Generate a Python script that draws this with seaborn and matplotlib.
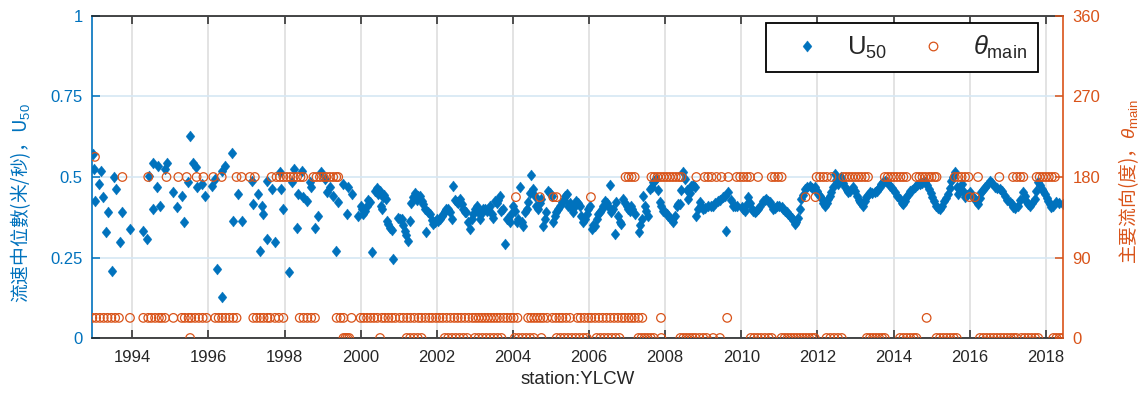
import matplotlib
matplotlib.use("Agg")
import numpy as np
import pandas as pd
import matplotlib.pyplot as plt
import seaborn as sns
from matplotlib.path import Path
from matplotlib.lines import Line2D

# ---------------------------------------------------------------------------
# Median flow speed U50 (m/s), station YLCW, by decimal year
# ---------------------------------------------------------------------------
u50_year = [
    1992.98, 1992.99, 1993.02, 1993.13, 1993.19, 1993.24, 1993.30, 1993.37,
    1993.46, 1993.52, 1993.57, 1993.68, 1993.74, 1993.94, 1994.29, 1994.40,
    1994.45, 1994.54, 1994.55, 1994.64, 1994.68, 1994.73, 1994.86, 1994.90,
    1995.06, 1995.18, 1995.30, 1995.37, 1995.47, 1995.52, 1995.60, 1995.67,
    1995.71, 1995.82, 1995.91, 1996.09, 1996.17, 1996.23, 1996.35, 1996.37,
    1996.43, 1996.61, 1996.65, 1996.79, 1996.87, 1997.14, 1997.18, 1997.31,
    1997.35, 1997.40, 1997.44, 1997.53, 1997.54, 1997.66, 1997.75, 1997.88,
    1997.92, 1997.97, 1998.12, 1998.19, 1998.25, 1998.34, 1998.36, 1998.45,
    1998.49, 1998.58, 1998.67, 1998.69, 1998.80, 1998.89, 1998.97, 1999.06,
    1999.11, 1999.19, 1999.28, 1999.34, 1999.41, 1999.54, 1999.63, 1999.68,
    1999.76, 1999.92, 2000.00,
    2000.07, 2000.16, 2000.24, 2000.29, 2000.37, 2000.46, 2000.55, 2000.59,
    2000.66, 2000.68, 2000.77, 2000.86, 2000.99, 2001.08, 2001.16, 2001.25,
    2001.29, 2001.38, 2001.51, 2001.60, 2001.69, 2001.73, 2001.82, 2001.91,
    2002.04, 2002.13, 2002.21, 2002.30, 2002.39, 2002.43, 2002.52, 2002.61,
    2002.69, 2002.78, 2002.87, 2002.96, 2003.05, 2003.13, 2003.22, 2003.31,
    2003.40, 2003.48, 2003.53, 2003.66, 2003.70, 2003.79, 2003.88, 2004.01,
    2004.10, 2004.18, 2004.27, 2004.32, 2004.40, 2004.47, 2004.53, 2004.62,
    2004.75, 2004.80, 2004.88, 2004.93, 2005.02, 2005.06, 2005.19, 2005.28,
    2005.41, 2005.45, 2005.59, 2005.67, 2005.76, 2005.85, 2005.94, 2006.02,
    2006.07, 2006.15, 2006.24, 2006.33, 2006.42, 2006.50, 2006.55, 2006.59,
    2006.68, 2006.72, 2006.85, 2006.90, 2006.99, 2007.07,
    2000.03, 2000.12, 2000.20, 2000.42, 2000.50, 2000.62, 2000.53, 2000.72,
    2000.82, 2001.03, 2001.12, 2001.20, 2001.33, 2001.43, 2001.47, 2001.55,
    2001.64, 2001.78, 2001.87, 2001.95, 2002.00, 2002.08, 2002.17, 2002.25,
    2002.34, 2002.48, 2002.56, 2002.65, 2002.73, 2002.83, 2002.92, 2003.00,
    2003.09, 2003.17, 2003.26, 2003.35, 2003.44, 2003.57, 2003.62, 2003.74,
    2003.84, 2003.92, 2003.96, 2004.05, 2004.14, 2004.23, 2004.36, 2004.44,
    2004.57, 2004.66, 2004.70, 2004.84, 2004.97, 2005.10, 2005.14, 2005.24,
    2005.33, 2005.37, 2005.50, 2005.54, 2005.63, 2005.72, 2005.80, 2005.90,
    2005.98, 2006.10, 2006.20, 2006.28, 2006.37, 2006.46, 2006.63, 2006.77,
    2006.81, 2006.95, 2007.03, 2007.10,
    2007.12, 2007.20, 2007.32, 2007.38, 2007.42, 2007.47, 2007.55, 2007.60,
    2007.69, 2007.77, 2007.86, 2007.95, 2008.04, 2008.12, 2008.21, 2008.30,
    2008.39, 2008.46, 2008.52, 2008.61, 2008.69, 2008.78, 2008.82, 2008.91,
    2009.00, 2009.13, 2009.26, 2009.39, 2009.52, 2009.61, 2009.66, 2009.79,
    2009.88, 2010.01, 2010.09, 2010.18, 2010.27, 2010.36, 2010.44, 2010.58,
    2010.66, 2010.75, 2010.84, 2010.93, 2011.06, 2011.14, 2011.23, 2011.32,
    2011.41, 2011.49, 2011.58, 2011.67, 2011.80, 2011.93, 2012.02, 2012.11,
    2012.20, 2012.28, 2012.37, 2012.46, 2012.55, 2012.63, 2012.72, 2012.81,
    2012.94, 2013.03, 2013.12, 2013.20, 2013.29, 2013.38, 2013.51, 2013.60,
    2013.68, 2013.77,
    2007.35, 2007.50, 2007.65, 2007.73, 2007.82, 2007.90, 2008.00, 2008.08,
    2008.17, 2008.25, 2008.35, 2008.42, 2008.57, 2008.65, 2008.74, 2008.87,
    2008.95, 2009.06, 2009.20, 2009.32, 2009.45, 2009.57, 2009.72, 2009.84,
    2010.05, 2010.14, 2010.22, 2010.31, 2010.40, 2010.50, 2010.62, 2010.70,
    2010.80, 2010.88, 2010.98, 2011.10, 2011.19, 2011.28, 2011.36, 2011.45,
    2011.53, 2011.62, 2011.72, 2011.85, 2011.98, 2012.06, 2012.15, 2012.24,
    2012.33, 2012.42, 2012.50, 2012.59, 2012.68, 2012.77, 2012.86, 2012.99,
    2013.08, 2013.16, 2013.25, 2013.33, 2013.44, 2013.56, 2013.64, 2013.73,
    2013.83,
    2013.90, 2014.03, 2014.17, 2014.25, 2014.34, 2014.43, 2014.56, 2014.69,
    2014.82, 2014.94, 2015.02, 2015.11, 2015.22, 2015.32, 2015.44, 2015.52,
    2015.61, 2015.70, 2015.79, 2015.87, 2016.00, 2016.14, 2016.22, 2016.31,
    2016.40, 2016.53, 2016.66, 2016.79, 2016.92, 2017.06, 2017.14, 2017.27,
    2017.41, 2017.49, 2017.58, 2017.71, 2017.80, 2017.89, 2017.98, 2018.06,
    2018.15, 2018.28, 2018.44,
    2013.96, 2014.10, 2014.21, 2014.30, 2014.38, 2014.49, 2014.62, 2014.75,
    2014.88, 2014.98, 2015.06, 2015.16, 2015.27, 2015.38, 2015.48, 2015.57,
    2015.66, 2015.75, 2015.83, 2015.93, 2016.06, 2016.18, 2016.27, 2016.36,
    2016.46, 2016.59, 2016.72, 2016.85, 2016.98, 2017.10, 2017.20, 2017.33,
    2017.45, 2017.54, 2017.65, 2017.75, 2017.84, 2017.94, 2018.02, 2018.10,
    2018.20, 2018.35,
]
u50 = [
    0.570, 0.525, 0.426, 0.478, 0.520, 0.437, 0.328, 0.390,
    0.209, 0.499, 0.463, 0.297, 0.392, 0.340, 0.333, 0.307,
    0.504, 0.545, 0.400, 0.468, 0.535, 0.410, 0.525, 0.545,
    0.452, 0.406, 0.442, 0.359, 0.483, 0.626, 0.545, 0.530,
    0.468, 0.478, 0.442, 0.473, 0.494, 0.214, 0.126, 0.520,
    0.535, 0.573, 0.364, 0.447, 0.364, 0.488, 0.416, 0.447,
    0.271, 0.410, 0.385, 0.307, 0.488, 0.463, 0.297, 0.514,
    0.463, 0.400, 0.204, 0.483, 0.525, 0.343, 0.447, 0.520,
    0.437, 0.426, 0.483, 0.468, 0.343, 0.380, 0.514, 0.494,
    0.452, 0.468, 0.442, 0.271, 0.421, 0.478, 0.385, 0.468,
    0.447, 0.380, 0.410,
    0.385, 0.410, 0.421, 0.266, 0.457, 0.447, 0.400, 0.437,
    0.431, 0.364, 0.343, 0.245, 0.374, 0.369, 0.333, 0.302,
    0.364, 0.437, 0.442, 0.426, 0.400, 0.328, 0.385, 0.354,
    0.364, 0.380, 0.395, 0.400, 0.369, 0.471, 0.421, 0.431,
    0.400, 0.390, 0.338, 0.385, 0.410, 0.369, 0.400, 0.395,
    0.410, 0.374, 0.426, 0.442, 0.395, 0.292, 0.369, 0.410,
    0.359, 0.468, 0.349, 0.390, 0.421, 0.506, 0.463, 0.410,
    0.431, 0.349, 0.390, 0.457, 0.442, 0.359, 0.400, 0.421,
    0.447, 0.410, 0.390, 0.426, 0.410, 0.359, 0.385, 0.410,
    0.338, 0.349, 0.385, 0.400, 0.426, 0.410, 0.475, 0.390,
    0.323, 0.421, 0.354, 0.431, 0.410, 0.395,
    0.400, 0.395, 0.430, 0.465, 0.455, 0.445, 0.410, 0.355,
    0.335, 0.370, 0.350, 0.320, 0.420, 0.450, 0.430, 0.440,
    0.415, 0.390, 0.365, 0.360, 0.370, 0.370, 0.385, 0.400,
    0.390, 0.430, 0.420, 0.415, 0.390, 0.360, 0.370, 0.400,
    0.390, 0.385, 0.400, 0.400, 0.385, 0.420, 0.430, 0.400,
    0.370, 0.360, 0.385, 0.395, 0.370, 0.360, 0.400, 0.450,
    0.440, 0.400, 0.420, 0.370, 0.450, 0.380, 0.390, 0.410,
    0.430, 0.440, 0.420, 0.400, 0.410, 0.420, 0.380, 0.370,
    0.400, 0.350, 0.370, 0.390, 0.410, 0.420, 0.400, 0.380,
    0.360, 0.420, 0.400, 0.410,
    0.400, 0.385, 0.328, 0.369, 0.442, 0.410, 0.380, 0.463,
    0.483, 0.494, 0.421, 0.395, 0.385, 0.374, 0.359, 0.410,
    0.416, 0.516, 0.494, 0.431, 0.473, 0.468, 0.380, 0.421,
    0.400, 0.410, 0.410, 0.426, 0.437, 0.333, 0.452, 0.410,
    0.410, 0.406, 0.395, 0.437, 0.400, 0.390, 0.400, 0.426,
    0.431, 0.421, 0.400, 0.410, 0.406, 0.395, 0.385, 0.374,
    0.354, 0.374, 0.431, 0.463, 0.473, 0.468, 0.447, 0.431,
    0.410, 0.431, 0.452, 0.509, 0.478, 0.499, 0.468, 0.452,
    0.468, 0.442, 0.421, 0.410, 0.437, 0.452, 0.452, 0.463,
    0.478, 0.488,
    0.350, 0.395, 0.470, 0.490, 0.460, 0.410, 0.390, 0.380,
    0.365, 0.380, 0.415, 0.460, 0.460, 0.450, 0.475, 0.400,
    0.410, 0.405, 0.410, 0.420, 0.430, 0.440, 0.430, 0.410,
    0.400, 0.415, 0.420, 0.395, 0.395, 0.410, 0.430, 0.425,
    0.410, 0.405, 0.410, 0.400, 0.390, 0.380, 0.365, 0.360,
    0.400, 0.445, 0.470, 0.465, 0.455, 0.440, 0.420, 0.420,
    0.440, 0.470, 0.490, 0.490, 0.480, 0.460, 0.455, 0.455,
    0.430, 0.415, 0.425, 0.445, 0.450, 0.455, 0.470, 0.485,
    0.485,
    0.473, 0.452, 0.431, 0.416, 0.437, 0.457, 0.468, 0.478,
    0.483, 0.463, 0.437, 0.410, 0.400, 0.426, 0.447, 0.488,
    0.514, 0.447, 0.478, 0.437, 0.452, 0.431, 0.416, 0.452,
    0.468, 0.488, 0.468, 0.463, 0.442, 0.421, 0.406, 0.410,
    0.452, 0.426, 0.410, 0.431, 0.483, 0.463, 0.447, 0.426,
    0.406, 0.421, 0.416,
    0.465, 0.440, 0.420, 0.425, 0.445, 0.460, 0.475, 0.480,
    0.475, 0.450, 0.425, 0.405, 0.410, 0.435, 0.465, 0.500,
    0.470, 0.465, 0.455, 0.445, 0.440, 0.425, 0.435, 0.460,
    0.475, 0.480, 0.465, 0.455, 0.430, 0.415, 0.405, 0.430,
    0.440, 0.415, 0.420, 0.455, 0.475, 0.455, 0.435, 0.415,
    0.410, 0.420,
]

# ---------------------------------------------------------------------------
# Main flow direction theta_main (degrees): dates grouped by direction class
# ---------------------------------------------------------------------------
theta_0_year = [
    1995.52, 1999.55, 1999.60, 1999.65, 1999.70, 2000.51, 2001.21, 2001.30,
    2001.40, 2001.50, 2001.60, 2002.21, 2002.30, 2002.40, 2002.50, 2002.60,
    2002.70, 2002.80, 2003.00, 2003.10, 2003.20, 2003.30, 2003.40, 2003.50,
    2003.60, 2003.70, 2004.05, 2004.15, 2004.25, 2004.35, 2004.45, 2004.55,
    2004.75, 2005.15, 2005.25, 2005.35, 2005.45, 2005.55, 2005.65, 2005.75,
    2005.85, 2005.94, 2006.20, 2006.30, 2006.40, 2006.50, 2006.60, 2006.70,
    2006.80, 2007.30, 2007.38, 2007.46, 2007.54, 2007.62, 2007.70, 2007.90,
    2008.40, 2008.48, 2008.56, 2008.64, 2008.72, 2008.80, 2008.90, 2009.00,
    2009.09, 2009.26, 2009.44, 2010.25, 2010.34, 2010.43, 2010.52, 2010.62,
    2010.72, 2010.80, 2011.06, 2011.14, 2011.22, 2011.30, 2011.38, 2011.46,
    2011.54, 2011.62, 2011.70, 2011.78, 2011.86, 2011.93, 2012.24, 2012.34,
    2012.44, 2012.54, 2012.64, 2013.30, 2013.38, 2013.46, 2013.54, 2013.62,
    2013.70, 2013.77, 2014.17, 2014.26, 2014.35, 2014.44, 2014.53, 2014.60,
    2015.13, 2015.22, 2015.31, 2015.40, 2015.49, 2015.58, 2015.66, 2016.27,
    2016.36, 2016.45, 2016.54, 2016.63, 2016.72, 2016.81, 2016.90, 2016.99,
    2017.08, 2017.16, 2017.23, 2017.36, 2017.45, 2017.54, 2017.63, 2017.72,
    2017.80, 2018.20, 2018.28, 2018.36, 2018.44,
]
theta_22_5_year = [
    1992.95, 1993.05, 1993.15, 1993.25, 1993.35, 1993.45, 1993.55, 1993.65,
    1993.94, 1994.29, 1994.42, 1994.50, 1994.60, 1994.70, 1994.77, 1994.86,
    1995.08, 1995.30, 1995.38, 1995.48, 1995.55, 1995.65, 1995.75, 1995.85,
    1995.95, 1996.18, 1996.27, 1996.36, 1996.45, 1996.55, 1996.65, 1996.74,
    1997.18, 1997.27, 1997.36, 1997.45, 1997.55, 1997.62, 1997.75, 1997.85,
    1997.97, 1998.40, 1998.50, 1998.60, 1998.70, 1998.80, 1999.37, 1999.47,
    1999.55, 1999.76, 2000.00, 2000.08, 2000.17, 2000.26, 2000.35, 2000.44,
    2000.56, 2000.64, 2000.73, 2000.82, 2000.91, 2001.03, 2001.12, 2001.22,
    2001.31, 2001.41, 2001.52, 2001.60, 2001.70, 2001.80, 2001.88, 2001.98,
    2002.07, 2002.16, 2002.26, 2002.36, 2002.46, 2002.55, 2002.64, 2002.74,
    2002.84, 2002.94, 2003.02, 2003.10, 2003.18, 2003.26, 2003.34, 2003.42,
    2003.50, 2003.58, 2003.66, 2003.76, 2003.85, 2003.94, 2004.02, 2004.12,
    2004.40, 2004.48, 2004.56, 2004.64, 2004.72, 2004.80, 2004.90, 2005.04,
    2005.13, 2005.22, 2005.30, 2005.40, 2005.50, 2005.70, 2005.78, 2005.88,
    2005.98, 2006.06, 2006.16, 2006.26, 2006.36, 2006.46, 2006.56, 2006.66,
    2006.76, 2006.86, 2006.94, 2007.04, 2007.12, 2007.20, 2007.30, 2007.40,
    2007.89, 2009.63, 2014.87,
]
theta_157_5_year = [
    2004.08, 2004.71, 2005.06, 2005.15, 2006.05, 2011.69, 2011.95, 2016.00,
    2016.14,
]
theta_180_year = [
    1993.74, 1994.42, 1994.90, 1995.21, 1995.43, 1995.69, 1995.87, 1996.13,
    1996.35, 1996.74, 1996.87, 1997.09, 1997.22, 1997.66, 1997.79, 1997.88,
    1997.97, 1998.06, 1998.15, 1998.24, 1998.33, 1998.42, 1998.49, 1998.76,
    1998.84, 1998.93, 1999.02, 1999.10, 1999.19, 1999.28, 1999.36, 1999.41,
    2006.96, 2007.04, 2007.12, 2007.20, 2007.64, 2007.72, 2007.80, 2007.88,
    2007.96, 2008.04, 2008.12, 2008.20, 2008.28, 2008.36, 2008.43, 2008.82,
    2009.04, 2009.13, 2009.22, 2009.35, 2009.48, 2009.66, 2009.88, 2009.97,
    2010.06, 2010.15, 2010.23, 2010.44, 2010.80, 2010.88, 2010.97, 2011.06,
    2011.98, 2012.07, 2012.16, 2012.25, 2012.37, 2012.68, 2012.76, 2012.84,
    2012.92, 2013.00, 2013.08, 2013.16, 2013.25, 2013.33, 2013.77, 2013.85,
    2013.93, 2014.01, 2014.09, 2014.18, 2014.26, 2014.34, 2014.60, 2014.68,
    2014.76, 2014.84, 2014.93, 2015.00, 2015.08, 2015.13, 2015.61, 2015.70,
    2015.79, 2015.88, 2015.97, 2016.22, 2016.78, 2017.14, 2017.24, 2017.33,
    2017.41, 2017.76, 2017.84, 2017.92, 2018.00, 2018.08, 2018.16, 2018.24,
]
theta_202_5_year = [1993.02]

year_ticks = [1994, 1996, 1998, 2000, 2002, 2004, 2006, 2008, 2010, 2012,
              2014, 2016, 2018]
u50_ticks = [0, 0.25, 0.5, 0.75, 1]
u50_tick_labels = ["0", "0.25", "0.5", "0.75", "1"]
theta_ticks = [0, 90, 180, 270, 360]

# ---------------------------------------------------------------------------
sns.set_theme(style="white")
plt.rcParams["font.family"] = ["Liberation Sans", "Noto Sans CJK SC", "DejaVu Sans"]
plt.rcParams["mathtext.fontset"] = "custom"
plt.rcParams["mathtext.rm"] = "Liberation Sans"
plt.rcParams["mathtext.it"] = "Liberation Sans:italic"
plt.rcParams["mathtext.bf"] = "Liberation Sans:bold"

BLUE = "#0072BD"
ORANGE = "#D95319"
DARK = "#262626"

df_u = pd.DataFrame({"year": u50_year, "u50": u50}).sort_values("year")
df_t = pd.concat([
    pd.DataFrame({"year": theta_0_year, "theta": 0.0}),
    pd.DataFrame({"year": theta_22_5_year, "theta": 22.5}),
    pd.DataFrame({"year": theta_157_5_year, "theta": 157.5}),
    pd.DataFrame({"year": theta_180_year, "theta": 180.0}),
    pd.DataFrame({"year": theta_202_5_year, "theta": 202.5}),
], ignore_index=True).sort_values("year")

diamond = Path([(0, 1), (0.8, 0), (0, -1), (-0.8, 0), (0, 1)],
               [Path.MOVETO, Path.LINETO, Path.LINETO, Path.LINETO, Path.CLOSEPOLY])

fig = plt.figure(figsize=(11.48, 4.0), dpi=100)
ax = fig.add_axes([0.0804, 0.155, 0.8458, 0.805])
ax2 = ax.twinx()

sns.scatterplot(data=df_u, x="year", y="u50", ax=ax, marker=diamond, s=62,
                color=BLUE, edgecolor=BLUE, linewidth=0.3, legend=False, zorder=3)
sns.scatterplot(data=df_t, x="year", y="theta", ax=ax2, marker="o", s=38,
                color=ORANGE, linewidth=0.9, legend=False, zorder=3)
circles = ax2.collections[-1]
circles.set_facecolor("none")
circles.set_edgecolor(ORANGE)

# axes ranges and ticks
ax.set_xlim(1992.95, 2018.46)
ax.set_ylim(0, 1)
ax2.set_ylim(0, 360)
ax.set_xticks(year_ticks)
ax.set_xticklabels([str(y) for y in year_ticks])
ax.set_yticks(u50_ticks)
ax.set_yticklabels(u50_tick_labels)
ax2.set_yticks(theta_ticks)
ax2.set_yticklabels([str(t) for t in theta_ticks])

ax.tick_params(axis="x", direction="in", length=6, width=1.1, color=DARK,
               labelcolor=DARK, labelsize=12, pad=9, top=True, bottom=True)
ax.tick_params(axis="y", direction="in", length=6, width=1.1, color=BLUE,
               labelcolor=BLUE, labelsize=12, pad=7, left=True, right=False)
ax2.tick_params(axis="y", direction="in", length=6, width=1.1, color=ORANGE,
                labelcolor=ORANGE, labelsize=12, pad=6.5)

# grid: grey verticals at the year ticks, light blue horizontals from the left axis
ax.set_axisbelow(True)
ax.grid(axis="x", color="#dedede", linewidth=1.2)
ax.grid(axis="y", color="#d6e7f4", linewidth=1.2)

for side in ("top", "bottom"):
    ax.spines[side].set_color(DARK)
    ax.spines[side].set_linewidth(1.2)
ax.spines["left"].set_color(BLUE)
ax.spines["left"].set_linewidth(1.2)
ax.spines["right"].set_visible(False)
for side in ("top", "bottom", "left"):
    ax2.spines[side].set_visible(False)
ax2.spines["right"].set_color(ORANGE)
ax2.spines["right"].set_linewidth(1.2)

# labels
ax.set_xlabel("station:YLCW", fontsize=13.5, color=DARK)
ax.xaxis.set_label_coords(0.5, -0.103)
ax.set_ylabel("流速中位數(米/秒)，U$_{50}$", fontsize=13.5, color=BLUE,
              fontfamily="Noto Sans CJK SC")
ax.yaxis.set_label_coords(-0.061, 0.418)
ax2.set_ylabel(r"主要流向(度)，$\theta_{\mathrm{main}}$", fontsize=13.5, color=ORANGE,
               fontfamily="Noto Sans CJK SC")
ax2.yaxis.set_label_coords(1.055, 0.487)

# legend
handles = [
    Line2D([], [], linestyle="none", marker=diamond, markersize=8,
           markerfacecolor=BLUE, markeredgecolor=BLUE, markeredgewidth=0.3),
    Line2D([], [], linestyle="none", marker="o", markersize=6.2,
           markerfacecolor="none", markeredgecolor=ORANGE, markeredgewidth=0.9),
]
leg = ax2.legend(handles, ["U$_{50}$", r"$\theta_{\mathrm{main}}$"], ncol=2,
                 loc="upper right", bbox_to_anchor=(0.974, 0.978),
                 borderaxespad=0, fontsize=18.5,
                 frameon=True, fancybox=False, framealpha=1, edgecolor="black",
                 handlelength=2.33, handletextpad=0.39, columnspacing=0.62,
                 borderpad=0.43)
leg.get_frame().set_linewidth(1.3)

fig.savefig("out.png", dpi=100)
